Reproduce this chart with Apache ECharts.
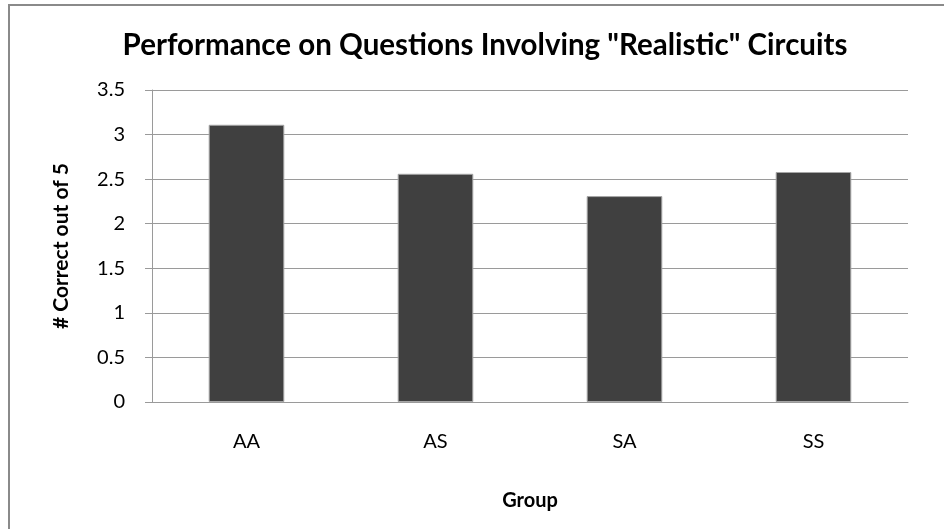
<!DOCTYPE html>
<html>
<head>
<meta charset="utf-8">
<script src="https://cdn.jsdelivr.net/npm/echarts@6/dist/echarts.min.js"></script>
<style>
  html, body { margin: 0; padding: 0; background: #fff; }
  #chart { width: 944px; height: 529px; }
</style>
</head>
<body>
<div id="chart"></div>
<script>
// Group categories and mean number of correct answers (out of 5)
const groups = ['AA', 'AS', 'SA', 'SS'];
const correct = [3.11, 2.56, 2.31, 2.58];
const yTicks = [0, 0.5, 1, 1.5, 2, 2.5, 3, 3.5];

const font = 'Lato, "Open Sans", sans-serif';
const chart = echarts.init(document.getElementById('chart'), null, { renderer: 'canvas' });

chart.setOption({
  backgroundColor: '#ffffff',
  animation: false,
  graphic: [{
    type: 'rect',
    shape: { x: 9, y: 5, width: 960, height: 560 },
    style: { fill: 'none', stroke: '#8a8a8a', lineWidth: 2 },
    silent: true
  }],
  title: {
    text: 'Performance on Questions Involving "Realistic" Circuits',
    left: 480,
    textAlign: 'center',
    top: 25,
    textStyle: { fontFamily: font, fontWeight: 'bold', fontSize: 29.5, color: '#000' }
  },
  grid: { left: 152, right: 36, top: 90, bottom: 127, containLabel: false },
  xAxis: {
    type: 'category',
    data: groups,
    name: 'Group',
    nameLocation: 'middle',
    nameGap: 89,
    nameTextStyle: { fontFamily: font, fontWeight: 'bold', fontSize: 20, color: '#000' },
    axisLine: { lineStyle: { color: '#9a9a9a', width: 1 } },
    axisTick: { show: false },
    axisLabel: { fontFamily: font, fontSize: 20, color: '#000', margin: 30 }
  },
  yAxis: {
    type: 'value',
    min: yTicks[0],
    max: yTicks[yTicks.length - 1],
    interval: 0.5,
    name: '# Correct out of 5',
    nameLocation: 'middle',
    nameGap: 80,
    nameRotate: 90,
    nameTextStyle: { fontFamily: font, fontWeight: 'bold', fontSize: 21, color: '#000' },
    axisLine: { show: true, lineStyle: { color: '#9a9a9a', width: 1 } },
    axisTick: { show: true, length: 7, lineStyle: { color: '#9a9a9a' } },
    axisLabel: { fontFamily: font, fontSize: 20, color: '#000', margin: 27 },
    splitLine: { lineStyle: { color: '#9a9a9a', width: 1 } }
  },
  series: [{
    type: 'bar',
    data: correct,
    barWidth: '40%',
    itemStyle: { color: '#404040', borderColor: '#a6a6a6', borderWidth: 1 }
  }]
});
</script>
</body>
</html>
